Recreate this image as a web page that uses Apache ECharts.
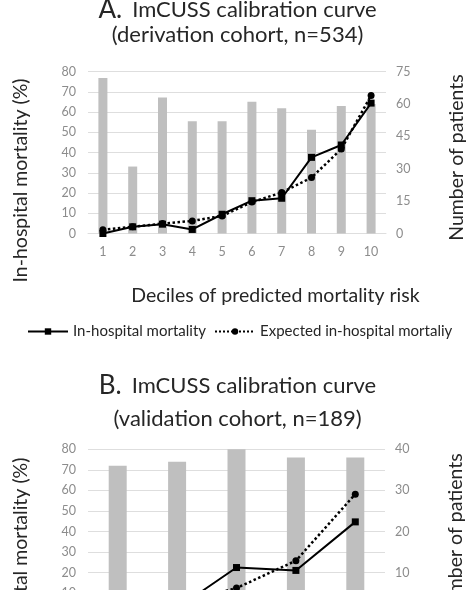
<!DOCTYPE html>
<html>
<head>
<meta charset="utf-8">
<script src="https://cdn.jsdelivr.net/npm/echarts@6/dist/echarts.min.js"></script>
<style>
    html, body { margin: 0; padding: 0; background: #fff; height: 590px; overflow: hidden; }
    /* taller than the window: panel B runs past the bottom edge, as in the reference */
    #calibChart { width: 475px; height: 620px; }
</style>
</head>
<body>
<div id="calibChart"></div>
<script>
// A: derivation cohort, deciles
let decileLabels = ["1", "2", "3", "4", "5", "6", "7", "8", "9", "10"];
let derivPatients = [72, 31, 63, 52, 52, 61, 58, 48, 59, 60];
let derivObserved = [0, 3.3, 4.6, 2.0, 9.5, 16.2, 17.4, 37.6, 43.7, 64.4];
let derivExpected = [1.8, 3.3, 4.9, 6.2, 8.7, 15.5, 20.2, 27.6, 41.7, 68.2];

// B: validation cohort, quintiles
let quintileLabels = ["1", "2", "3", "4", "5"];
let validPatients = [36, 37, 40, 38, 38];
let validObserved = [0, 2.7, 22.5, 21.1, 44.7];
let validExpected = [1.5, 5, 12.5, 25.8, 58.2];

let textColor = "#262626";
let tickColor = "#8c8c8c";
let gridColor = "#dedede";
let barColor = "#bfbfbf";
let fontName = "Lato";
let nameSize = 19.5;

function mortalityAxis(gridIndex) {
    return {
        type: "value",
        gridIndex: gridIndex,
        min: 0,
        max: 80,
        interval: 10,
        name: "In-hospital mortality (%)",
        nameLocation: "middle",
        nameGap: 57,
        nameTextStyle: {
            fontSize: nameSize,
            fontFamily: fontName,
            color: textColor,
            padding: [0, 56, 0, 0],
        },
        axisLine: { show: false },
        axisTick: { show: false },
        axisLabel: { color: tickColor, fontSize: 12.5, fontFamily: fontName, margin: 12 },
        splitLine: { lineStyle: { color: gridColor, width: 1 } },
    };
}

function patientsAxis(gridIndex, max, interval) {
    return {
        type: "value",
        gridIndex: gridIndex,
        position: "right",
        min: 0,
        max: max,
        interval: interval,
        name: "Number of patients",
        nameLocation: "middle",
        nameGap: 61,
        nameTextStyle: {
            fontSize: nameSize,
            fontFamily: fontName,
            color: textColor,
            padding: [0, 10, 0, 0],
        },
        axisLine: { show: false },
        axisTick: { show: false },
        axisLabel: { color: tickColor, fontSize: 12.5, fontFamily: fontName, margin: 10 },
        splitLine: { show: false },
    };
}

function categoryAxis(gridIndex, labels, withName) {
    let axis = {
        type: "category",
        gridIndex: gridIndex,
        data: labels,
        axisLine: { lineStyle: { color: gridColor } },
        axisTick: { show: false },
        axisLabel: { color: tickColor, fontSize: 12.5, fontFamily: fontName, margin: 12 },
    };
    if (withName) {
        axis.name = "Deciles of predicted mortality risk";
        axis.nameLocation = "middle";
        axis.nameGap = 52;
        axis.nameTextStyle = {
            fontSize: nameSize,
            fontFamily: fontName,
            color: textColor,
            padding: [0, 0, 0, 77],
        };
    }
    return axis;
}

function titleLine(letter, text, top) {
    return {
        text: "{a|" + letter + "}  {b|" + text + "}",
        left: "center",
        top: top,
        padding: 0,
        textStyle: {
            rich: {
                a: { fontSize: 26, fontWeight: "normal", fontFamily: fontName, color: textColor },
                b: { fontSize: 22, fontWeight: "normal", fontFamily: fontName, color: textColor },
            },
        },
    };
}

function subtitleLine(text, top) {
    return {
        text: text,
        left: "center",
        top: top,
        padding: 0,
        textStyle: { fontSize: 22, fontWeight: "normal", fontFamily: fontName, color: textColor },
    };
}

let calibChart = echarts.init(document.getElementById("calibChart"));
calibChart.setOption({
    animation: false,
    backgroundColor: "#fff",
    title: [
        titleLine("A.", "ImCUSS calibration curve", -3),
        subtitleLine("(derivation cohort, n=534)", 24),
        titleLine("B.", "ImCUSS calibration curve", 373),
        subtitleLine("(validation cohort, n=189)", 408),
    ],
    legend: {
        data: ["In-hospital mortality", "Expected in-hospital mortaliy"],
        top: 319,
        left: 22,
        itemWidth: 40,
        itemHeight: 8,
        itemGap: 8,
        textStyle: { fontSize: 15, fontFamily: fontName, color: textColor },
    },
    grid: [
        { left: 88, top: 71.5, width: 298, height: 162, outerBoundsMode: "none" },
        { left: 88, top: 449.3, width: 297, height: 164.5, outerBoundsMode: "none" },
    ],
    xAxis: [
        categoryAxis(0, decileLabels, true),
        categoryAxis(1, quintileLabels, false),
    ],
    yAxis: [
        mortalityAxis(0),
        patientsAxis(0, 75, 15),
        mortalityAxis(1),
        patientsAxis(1, 40, 10),
    ],
    series: [
        {
            name: "Number of patients",
            type: "bar",
            xAxisIndex: 0,
            yAxisIndex: 1,
            data: derivPatients,
            barWidth: 9,
            itemStyle: { color: barColor },
        },
        {
            name: "In-hospital mortality",
            type: "line",
            xAxisIndex: 0,
            yAxisIndex: 0,
            data: derivObserved,
            symbol: "rect",
            symbolSize: 7,
            itemStyle: { color: "#000" },
            lineStyle: { color: "#000", width: 2 },
        },
        {
            name: "Expected in-hospital mortaliy",
            type: "line",
            xAxisIndex: 0,
            yAxisIndex: 0,
            data: derivExpected,
            symbol: "circle",
            symbolSize: 7,
            itemStyle: { color: "#000" },
            lineStyle: { color: "#000", width: 2.5, type: "dotted" },
        },
        {
            name: "Number of patients",
            type: "bar",
            xAxisIndex: 1,
            yAxisIndex: 3,
            data: validPatients,
            barWidth: 18,
            itemStyle: { color: barColor },
        },
        {
            name: "In-hospital mortality",
            type: "line",
            xAxisIndex: 1,
            yAxisIndex: 2,
            data: validObserved,
            symbol: "rect",
            symbolSize: 7,
            itemStyle: { color: "#000" },
            lineStyle: { color: "#000", width: 2 },
        },
        {
            name: "Expected in-hospital mortaliy",
            type: "line",
            xAxisIndex: 1,
            yAxisIndex: 2,
            data: validExpected,
            symbol: "circle",
            symbolSize: 7,
            itemStyle: { color: "#000" },
            lineStyle: { color: "#000", width: 2.5, type: "dotted" },
        },
    ],
});
window.addEventListener("resize", function () {
    calibChart.resize();
});
</script>
</body>
</html>
